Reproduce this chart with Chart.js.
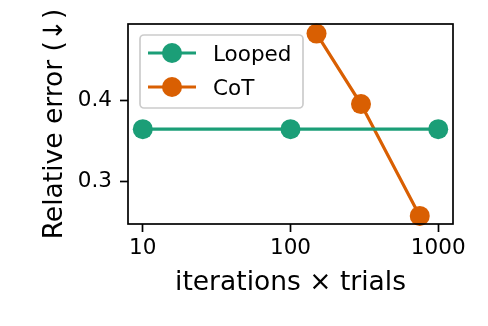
<!DOCTYPE html>
<html>
<head>
<meta charset="utf-8">
<script src="https://cdn.jsdelivr.net/npm/chart.js@4.4.0/dist/chart.umd.min.js"></script>
<style>
  html, body { margin: 0; padding: 0; background: #fff; }
</style>
</head>
<body>
<canvas id="errChart" width="488" height="326"></canvas>
<script>
// budget (iterations x trials) vs relative error
var loopedBudget = [10, 100, 1000];
var loopedError = [0.364, 0.364, 0.364];
var cotBudget = [150, 300, 750];
var cotError = [0.482, 0.395, 0.257];
var xTicks = [10, 100, 1000];
var yTicks = [0.3, 0.4];

var TEAL = '#1b9e77';
var ORANGE = '#d95f02';
var FONT = 'DejaVu Sans';

function toPoints(xs, ys) {
    var pts = [];
    for (var i = 0; i < xs.length; i++) {
        pts.push({ x: xs[i], y: ys[i] });
    }
    return pts;
}

// box round the plot plus the in-axes legend
var frameAndLegend = {
    id: 'frameAndLegend',
    afterDatasetsDraw: function (chart) {
        var ctx = chart.ctx;
        var a = chart.chartArea;
        ctx.save();
        ctx.strokeStyle = '#000';
        ctx.lineWidth = 1.7;
        ctx.strokeRect(a.left, a.top, a.right - a.left, a.bottom - a.top);

        var bx = a.left + 12, by = a.top + 11, bw = 163, bh = 73, r = 4;
        ctx.beginPath();
        ctx.moveTo(bx + r, by);
        ctx.arcTo(bx + bw, by, bx + bw, by + bh, r);
        ctx.arcTo(bx + bw, by + bh, bx, by + bh, r);
        ctx.arcTo(bx, by + bh, bx, by, r);
        ctx.arcTo(bx, by, bx + bw, by, r);
        ctx.closePath();
        ctx.fillStyle = 'rgba(255,255,255,0.8)';
        ctx.fill();
        ctx.strokeStyle = '#cccccc';
        ctx.lineWidth = 1.7;
        ctx.stroke();

        var sets = chart.data.datasets;
        for (var i = 0; i < sets.length; i++) {
            var cy = by + 18 + i * 34;
            var x0 = bx + 8, x1 = bx + 56;
            ctx.strokeStyle = sets[i].borderColor;
            ctx.lineWidth = 3.2;
            ctx.beginPath();
            ctx.moveTo(x0, cy);
            ctx.lineTo(x1, cy);
            ctx.stroke();
            ctx.fillStyle = sets[i].backgroundColor;
            ctx.beginPath();
            ctx.arc((x0 + x1) / 2, cy, 10, 0, Math.PI * 2);
            ctx.fill();
            ctx.fillStyle = '#000';
            ctx.font = '21.5px "' + FONT + '"';
            ctx.textBaseline = 'alphabetic';
            ctx.textAlign = 'left';
            ctx.fillText(sets[i].label, bx + 73, cy + 8);
        }
        ctx.restore();
    }
};

var ctx = document.getElementById('errChart').getContext('2d');
var errChart = new Chart(ctx, {
    type: 'line',
    data: {
        datasets: [{
            label: 'Looped',
            data: toPoints(loopedBudget, loopedError),
            borderColor: TEAL,
            backgroundColor: TEAL,
            borderWidth: 3.2,
            pointRadius: 10,
            pointBorderWidth: 0,
            pointHoverRadius: 10,
            clip: false
        }, {
            label: 'CoT',
            data: toPoints(cotBudget, cotError),
            borderColor: ORANGE,
            backgroundColor: ORANGE,
            borderWidth: 3.2,
            pointRadius: 10,
            pointBorderWidth: 0,
            pointHoverRadius: 10,
            clip: false
        }]
    },
    options: {
        responsive: false,
        animation: false,
        layout: { padding: { left: 0, right: 35, top: 24, bottom: 0 } },
        plugins: {
            legend: { display: false },
            tooltip: { enabled: false }
        },
        scales: {
            x: {
                type: 'logarithmic',
                min: 7.94,
                max: 1259,
                afterBuildTicks: function (scale) {
                    scale.ticks = xTicks.map(function (v) { return { value: v }; });
                },
                afterFit: function (scale) { scale.height = 102; },
                ticks: {
                    color: '#000',
                    font: { family: FONT, size: 21.5 },
                    padding: 4,
                    maxRotation: 0,
                    callback: function (v) { return String(v); }
                },
                grid: {
                    drawOnChartArea: false,
                    drawTicks: true,
                    tickLength: 8,
                    tickWidth: 1.7,
                    tickColor: '#000'
                },
                border: { display: false },
                title: {
                    display: true,
                    text: 'iterations × trials',
                    color: '#000',
                    font: { family: FONT, size: 26.5 },
                    padding: { top: 0, bottom: 27 }
                }
            },
            y: {
                type: 'linear',
                min: 0.247,
                max: 0.4938,
                afterBuildTicks: function (scale) {
                    scale.ticks = yTicks.map(function (v) { return { value: v }; });
                },
                afterFit: function (scale) { scale.width = 128; },
                ticks: {
                    color: '#000',
                    font: { family: FONT, size: 21.5 },
                    padding: 8,
                    callback: function (v) { return v.toFixed(1); }
                },
                grid: {
                    drawOnChartArea: false,
                    drawTicks: true,
                    tickLength: 8,
                    tickWidth: 1.7,
                    tickColor: '#000'
                },
                border: { display: false },
                title: {
                    display: true,
                    text: 'Relative error (↓)',
                    color: '#000',
                    font: { family: FONT, size: 26.5 },
                    padding: { top: 39, bottom: 0 }
                }
            }
        }
    },
    plugins: [frameAndLegend]
});
</script>
</body>
</html>
